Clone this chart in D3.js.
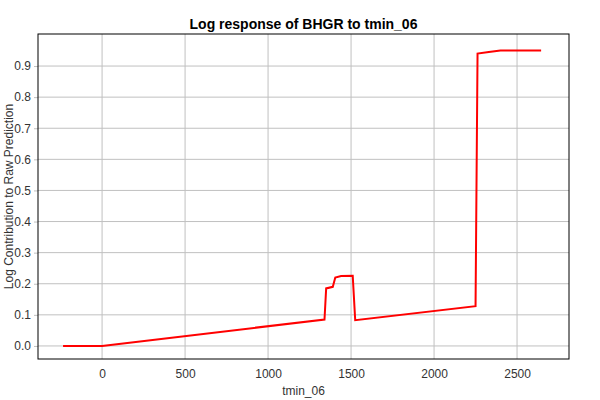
<!DOCTYPE html>
<html>
<head>
<meta charset="utf-8">
<script src="https://cdn.jsdelivr.net/npm/d3@7"></script>
<style>
  body { margin: 0; background: white; }
  svg { display: block; }
</style>
</head>
<body>
<div id="chart"></div>
<script>
// response curve breakpoints
const tminValues = [-235, 0, 1340, 1350, 1390, 1405, 1440, 1510, 1525, 2250, 2262, 2330, 2400, 2645];
const logContrib = [0, 0, 0.085, 0.185, 0.19, 0.22, 0.225, 0.226, 0.083, 0.128, 0.94, 0.945, 0.95, 0.95];
const xTicks = [0, 500, 1000, 1500, 2000, 2500];
const yTicks = [0, 0.1, 0.2, 0.3, 0.4, 0.5, 0.6, 0.7, 0.8, 0.9];

const width = 600;
const height = 400;
const margin = { top: 34, right: 31, bottom: 41, left: 38 };

const svg = d3.select("#chart")
  .append("svg")
  .attr("width", width)
  .attr("height", height)
  .style("background", "white")
  .style("font-family", "'Liberation Sans', Arial, sans-serif");

const x = d3.scaleLinear()
  .domain([-386, 2813])
  .range([margin.left, width - margin.right]);

const y = d3.scaleLinear()
  .domain([-0.042, 1.003])
  .range([height - margin.bottom, margin.top]);

// grid
svg.append("g")
  .selectAll("line")
  .data(xTicks)
  .join("line")
    .attr("x1", d => x(d)).attr("x2", d => x(d))
    .attr("y1", margin.top).attr("y2", height - margin.bottom)
    .attr("stroke", "#c0c0c0");

svg.append("g")
  .selectAll("line")
  .data(yTicks)
  .join("line")
    .attr("x1", margin.left).attr("x2", width - margin.right)
    .attr("y1", d => y(d)).attr("y2", d => y(d))
    .attr("stroke", "#c0c0c0");

// axes
const xAxis = svg.append("g")
  .attr("transform", `translate(0,${height - margin.bottom})`)
  .call(d3.axisBottom(x).tickValues(xTicks).tickFormat(d3.format("d")).tickSize(0).tickPadding(10));

const yAxis = svg.append("g")
  .attr("transform", `translate(${margin.left},0)`)
  .call(d3.axisLeft(y).tickValues(yTicks).tickFormat(d3.format(".1f")).tickSize(4).tickPadding(3));

[xAxis, yAxis].forEach(g => {
  g.select(".domain").remove();
  g.selectAll("text").attr("font-size", "12px").attr("fill", "#333").attr("font-family", "'Liberation Sans', Arial, sans-serif");
  g.selectAll(".tick line").attr("stroke", "#c0c0c0");
});

// frame
svg.append("rect")
  .attr("x", margin.left)
  .attr("y", margin.top)
  .attr("width", width - margin.left - margin.right)
  .attr("height", height - margin.top - margin.bottom)
  .attr("fill", "none")
  .attr("stroke", "black")
  .attr("stroke-width", 1);

// curve
const pts = tminValues.map((t, i) => [t, logContrib[i]]);
svg.append("path")
  .datum(pts)
  .attr("fill", "none")
  .attr("stroke", "#ff0000")
  .attr("stroke-width", 2)
  .attr("d", d3.line().x(d => x(d[0])).y(d => y(d[1])));

svg.append("text")
  .attr("x", (margin.left + width - margin.right) / 2)
  .attr("y", 29)
  .attr("text-anchor", "middle")
  .attr("font-size", "14px")
  .attr("font-weight", "bold")
  .text("Log response of BHGR to tmin_06");

svg.append("text")
  .attr("x", (margin.left + width - margin.right) / 2)
  .attr("y", 395)
  .attr("text-anchor", "middle")
  .attr("font-size", "12px")
  .attr("fill", "#333")
  .text("tmin_06");

svg.append("text")
  .attr("transform", `translate(13,${(margin.top + height - margin.bottom) / 2}) rotate(-90)`)
  .attr("text-anchor", "middle")
  .attr("font-size", "12px")
  .attr("fill", "#333")
  .text("Log Contribution to Raw Prediction");
</script>
</body>
</html>
